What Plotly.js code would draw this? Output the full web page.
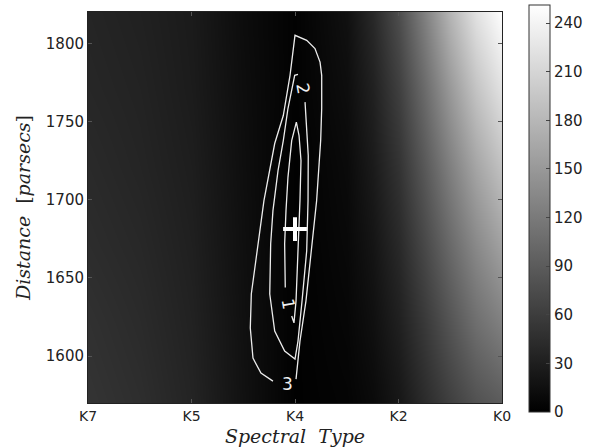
<!DOCTYPE html>
<html>
<head>
<meta charset="utf-8">
<script src="https://cdn.plot.ly/plotly-3.0.1.min.js"></script>
<style>html,body{margin:0;padding:0;background:#fff;}#chart{width:590px;height:448px;}</style>
</head>
<body>
<div id="chart"></div>
<script>
// Spectral type axis (index positions) and labels
var spectralTickVals = [0, 1, 2, 3, 4];
var spectralTickText = ['K7', 'K5', 'K4', 'K2', 'K0'];
var distanceTickVals = [1600, 1650, 1700, 1750, 1800];
var colorbarTickVals = [0, 30, 60, 90, 120, 150, 180, 210, 240];

// Background surface grid
var gridX = [0, 0.5, 1, 1.5, 2, 2.5, 2.75, 3, 3.25, 3.5, 3.75, 4];
var gridY = [1570, 1620, 1670, 1720, 1770, 1820];
var row1570 = [51, 45, 35, 17, 1, 4, 10, 22, 42, 62, 80, 90];
var row1620 = [48, 42, 33, 16, 1, 6, 15, 31, 55, 82, 108, 125];
var row1670 = [44, 39, 31, 15, 1, 8, 20, 40, 70, 103, 134, 158];
var row1720 = [41, 36, 29, 14, 1, 10, 26, 50, 86, 125, 162, 190];
var row1770 = [38, 34, 27, 13, 2, 13, 32, 62, 104, 150, 192, 222];
var row1820 = [36, 32, 26, 12, 2, 16, 40, 76, 125, 178, 222, 250];

// Contour level 3 (outer)
var c3X = [2.010, 2.048, 2.106, 2.161, 2.209, 2.248, 2.258, 2.258, 2.242, 2.193, 2.113, 2.000,
           1.952, 1.887, 1.804, 1.700, 1.643, 1.578, 1.568, 1.594, 1.671, 1.787];
var c3Y = [1585.3, 1609.6, 1635.3, 1667.3, 1699.4, 1737.8, 1758.3, 1779.5, 1788.0, 1796.6, 1801.9, 1805.1,
           1779.5, 1753.8, 1735.9, 1699.4, 1671.8, 1639.7, 1617.9, 1598.7, 1589.1, 1584.0];
// Contour level 2
var c2X = [2.097, 2.113, 2.128, 2.126, 2.113, 2.068, 2.029, 2.000,
           1.900, 1.804, 1.756, 1.765, 1.787, 1.836, 1.887, 1.932, 1.997, 2.029];
var c2Y = [1762.4, 1747.4, 1728.2, 1699.4, 1667.3, 1635.3, 1609.6, 1598.1,
           1603.2, 1616.0, 1639.7, 1671.8, 1693.0, 1718.6, 1737.8, 1758.3, 1779.5, 1780.1];
// Contour level 1 (inner), open where its label sits
var c1X = [1.906, 1.900, 1.913, 1.932, 1.968, 2.013, 2.039, 2.058, 2.048, 2.032, 2.010, 1.990, 1.968];
var c1Y = [1643.8, 1671.8, 1693.0, 1714.3, 1737.8, 1749.6, 1741.0, 1725.0, 1699.4, 1667.3, 1635.3, 1621.2, 1625.6];

// Best-fit point
var bestX = [2.0];
var bestY = [1681.2];

// Contour labels
var labelText = ['3', '2', '1'];
var labelX = [1.923, 2.077, 1.935];
var labelY = [1582.1, 1770.7, 1633.3];
var labelAngle = [0, 80, 80];

var lineStyle = {color: '#ececec', width: 1.3};
var traces = [
  {
    type: 'heatmap', x: gridX, y: gridY,
    z: [row1570, row1620, row1670, row1720, row1770, row1820],
    zsmooth: 'best', zmin: 0, zmax: 251,
    colorscale: [[0, '#000000'], [1, '#ffffff']],
    hoverinfo: 'skip',
    colorbar: {
      x: 1.0652, xanchor: 'left', xpad: 0,
      y: 0.497, yanchor: 'middle', ypad: 0,
      len: 1.041, thickness: 21,
      outlinecolor: '#333', outlinewidth: 1,
      tickvals: colorbarTickVals, ticks: 'inside', ticklen: 4, tickcolor: '#444',
      tickfont: {family: 'DejaVu Sans', size: 15, color: '#222'}
    }
  },
  {type: 'scatter', mode: 'lines', x: c3X, y: c3Y, line: lineStyle, hoverinfo: 'skip'},
  {type: 'scatter', mode: 'lines', x: c2X, y: c2Y, line: lineStyle, hoverinfo: 'skip'},
  {type: 'scatter', mode: 'lines', x: c1X, y: c1Y, line: lineStyle, hoverinfo: 'skip'},
  {type: 'scatter', mode: 'markers', x: bestX, y: bestY,
   marker: {symbol: 'cross-thin', size: 17, color: '#ffffff', line: {color: '#ffffff', width: 4}}, hoverinfo: 'skip'}
];

var annotations = labelText.map(function (t, i) {
  return {x: labelX[i], y: labelY[i], xref: 'x', yref: 'y', text: t, showarrow: false,
          textangle: labelAngle[i], font: {family: 'DejaVu Sans', size: 17, color: '#f0f0f0'}};
});

var layout = {
  width: 590, height: 448,
  margin: {l: 88, r: 88, t: 12, b: 45, pad: 0, autoexpand: false},
  paper_bgcolor: '#ffffff', plot_bgcolor: '#000000',
  showlegend: false,
  font: {family: 'DejaVu Sans', size: 14, color: '#222'},
  xaxis: {
    range: [0, 4], tickvals: spectralTickVals, ticktext: spectralTickText,
    ticks: 'inside', ticklen: 4, tickcolor: '#555',
    showline: true, linecolor: '#222', linewidth: 1, mirror: 'ticks',
    showgrid: false, zeroline: false,
    tickfont: {family: 'DejaVu Sans', size: 14, color: '#222'},
    title: {text: '<i>Spectral</i>\u00a0\u00a0<i>Type</i>', standoff: 6,
            font: {family: 'DejaVu Serif', size: 19, color: '#222'}}
  },
  yaxis: {
    range: [1570, 1820], tickvals: distanceTickVals,
    ticks: 'inside', ticklen: 4, tickcolor: '#555',
    showline: true, linecolor: '#222', linewidth: 1, mirror: 'ticks',
    showgrid: false, zeroline: false,
    tickfont: {family: 'DejaVu Sans', size: 15, color: '#222'},
    title: {text: '<i>Distance</i>\u00a0\u00a0[<i>parsecs</i>]', standoff: 10,
            font: {family: 'DejaVu Serif', size: 19, color: '#222'}}
  },
  annotations: annotations
};

Plotly.newPlot('chart', traces, layout, {displayModeBar: false, staticPlot: true});
</script>
</body>
</html>
